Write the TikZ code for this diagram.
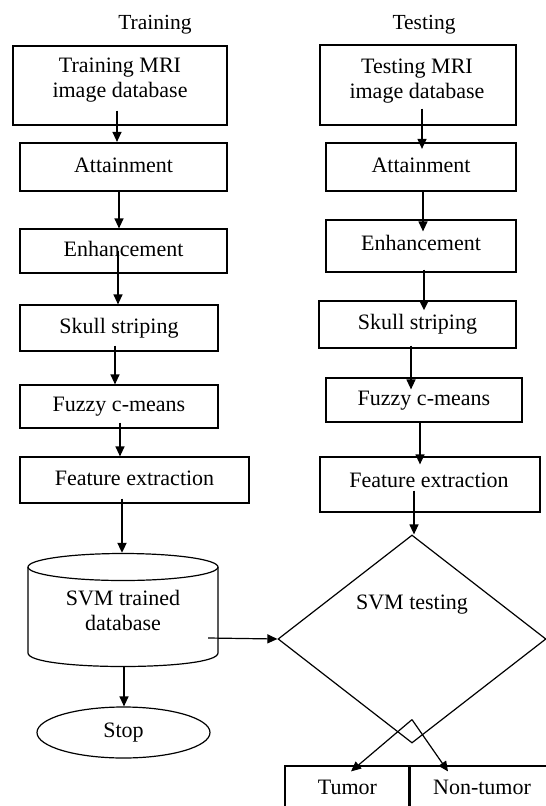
\documentclass[tikz,border=0pt]{standalone}
\usepackage{fontspec}
\setmainfont{Liberation Serif}
\usetikzlibrary{arrows.meta,shapes.geometric,calc}
\begin{document}
\begin{tikzpicture}[x=1pt,y=-1pt,
  box/.style={draw, line width=1.2pt, rectangle, inner sep=0pt, align=center,
    text height=15pt, text depth=4.5pt, font=\fontsize{22}{25}\selectfont},
  thickbox/.style={box, line width=2.2pt},
  txt/.style={inner sep=0pt, align=center, font=\fontsize{22}{25}\selectfont},
  ttl/.style={inner sep=0pt, text height=15pt, text depth=4.5pt, font=\fontsize{21.5}{25}\selectfont},
  arr/.style={draw, line width=1.2pt, -{Triangle[length=10pt,width=9pt]}},
  tarr/.style={arr, line width=2pt}]
\fill[white] (0,0) rectangle (546,806);
\clip (0,0) rectangle (546,806);

% titles
\node[ttl] (ttrain) at (155,24) {Training};
\node[ttl] (ttest) at (424,24) {Testing};

% ---------- training column ----------
\node[box, minimum width=214pt, minimum height=79pt] (tb1) at (120,85.5) {};
\node[txt] (tb1t) at (120,80.5) {Training MRI\\image database};
\node[thickbox, minimum width=207pt, minimum height=48pt] (ta) at (123.5,167) {Attainment};
\node[box, minimum width=207pt, minimum height=44pt] (te) at (123.5,251) {Enhancement};
\node[box, minimum width=198pt, minimum height=46pt] (ts) at (119,328) {Skull striping};
\node[box, minimum width=198pt, minimum height=43pt] (tf) at (119,406.5) {Fuzzy c-means};
\node[box, minimum width=229pt, minimum height=46pt] (tfe) at (134.5,480) {Feature extraction};

% cylinder
\draw[line width=1.2pt] (28,567) -- (28,653) .. controls (28,671) and (218,671) .. (218,653) -- (218,567);
\draw[line width=1.2pt] (123,567) ellipse [x radius=95pt, y radius=13.5pt];
\node[txt, minimum width=190pt, minimum height=114pt] (cyl) at (123,610) {SVM trained\\database};

\node[draw, ellipse, line width=1.2pt, minimum width=173pt, minimum height=51pt, inner sep=0pt,
  font=\fontsize{22}{25}\selectfont] (stop) at (123.5,732.5) {Stop};

% ---------- testing column ----------
\node[box, minimum width=196pt, minimum height=80pt] (sb1) at (418,85) {};
\node[txt] (sb1t) at (417,81.5) {Testing MRI\\image database};
\node[thickbox, minimum width=190pt, minimum height=48pt] (sa) at (421,167) {Attainment};
\node[box, minimum width=190pt, minimum height=52pt] (se) at (421,246) {};
\node[txt] (set) at (421,243) {Enhancement};
\node[box, minimum width=197pt, minimum height=47pt] (ss) at (417.5,324.5) {Skull striping};
\node[box, minimum width=196pt, minimum height=44pt] (sf) at (424,400) {Fuzzy c-means};
\node[box, minimum width=220pt, minimum height=55pt] (sfe) at (430,484.5) {};
\node[txt] (sfet) at (429,480) {Feature extraction};

\node[draw, diamond, line width=1.2pt, minimum width=268pt, minimum height=208pt, inner sep=0pt] (svm) at (412,639) {};
\node[txt] (svmt) at (412,605) {SVM testing};
\coordinate (apex) at ([yshift=24pt]svm.south);

\node[box, minimum width=125pt, minimum height=46pt] (tum) at (347.5,789) {Tumor};
\node[box, minimum width=146pt, minimum height=46pt] (ntum) at (482,789) {Non-tumor};

% ---------- connectors: training ----------
\draw[arr] ([xshift=-3pt,yshift=15pt]tb1.south) -- ([xshift=-6.5pt]ta.north);
\draw[arr] ([xshift=-4.5pt]ta.south) -- ([xshift=-4.5pt]te.north);
\draw[arr] ([xshift=-5.5pt,yshift=23pt]te.south) -- ([xshift=-1pt]ts.north);
\draw[arr] ([xshift=-4pt,yshift=6pt]ts.south) -- ([xshift=-4pt]tf.north);
\draw[arr] ([xshift=1pt,yshift=6pt]tf.south) -- ([xshift=-14.5pt]tfe.north);
\draw[tarr] ([xshift=-12.5pt,yshift=5pt]tfe.south) -- ([xshift=-1pt]cyl.north);
\draw[arr] ([xshift=1pt]cyl.south) -- ([xshift=0.5pt]stop.north);
\draw[arr] ([xshift=-10pt,yshift=-28pt]cyl.east) -- (svm.west);

% ---------- connectors: testing ----------
\draw[arr] ([xshift=4pt,yshift=17pt]sb1.south) -- ([xshift=1pt,yshift=-7pt]sa.north);
\draw[arr] ([xshift=2pt]sa.south) -- ([xshift=2pt,yshift=-12pt]se.north);
\draw[tarr] ([xshift=3pt,yshift=3pt]se.south) -- ([xshift=6.5pt,yshift=-10pt]ss.north);
\draw[arr] ([xshift=-6.5pt,yshift=3pt]ss.south) -- ([xshift=-13pt,yshift=-12pt]sf.north);
\draw[arr] ([xshift=-4pt]sf.south) -- ([xshift=-10pt,yshift=-8pt]sfe.north);
\draw[arr] ([xshift=-16pt,yshift=22pt]sfe.south) -- ([xshift=2pt]svm.north);
\draw[arr] (apex) -- ([xshift=3.5pt,yshift=-6pt]tum.north);
\draw[arr] (apex) -- ([xshift=-34pt,yshift=-6pt]ntum.north);
\end{tikzpicture}
\end{document}
